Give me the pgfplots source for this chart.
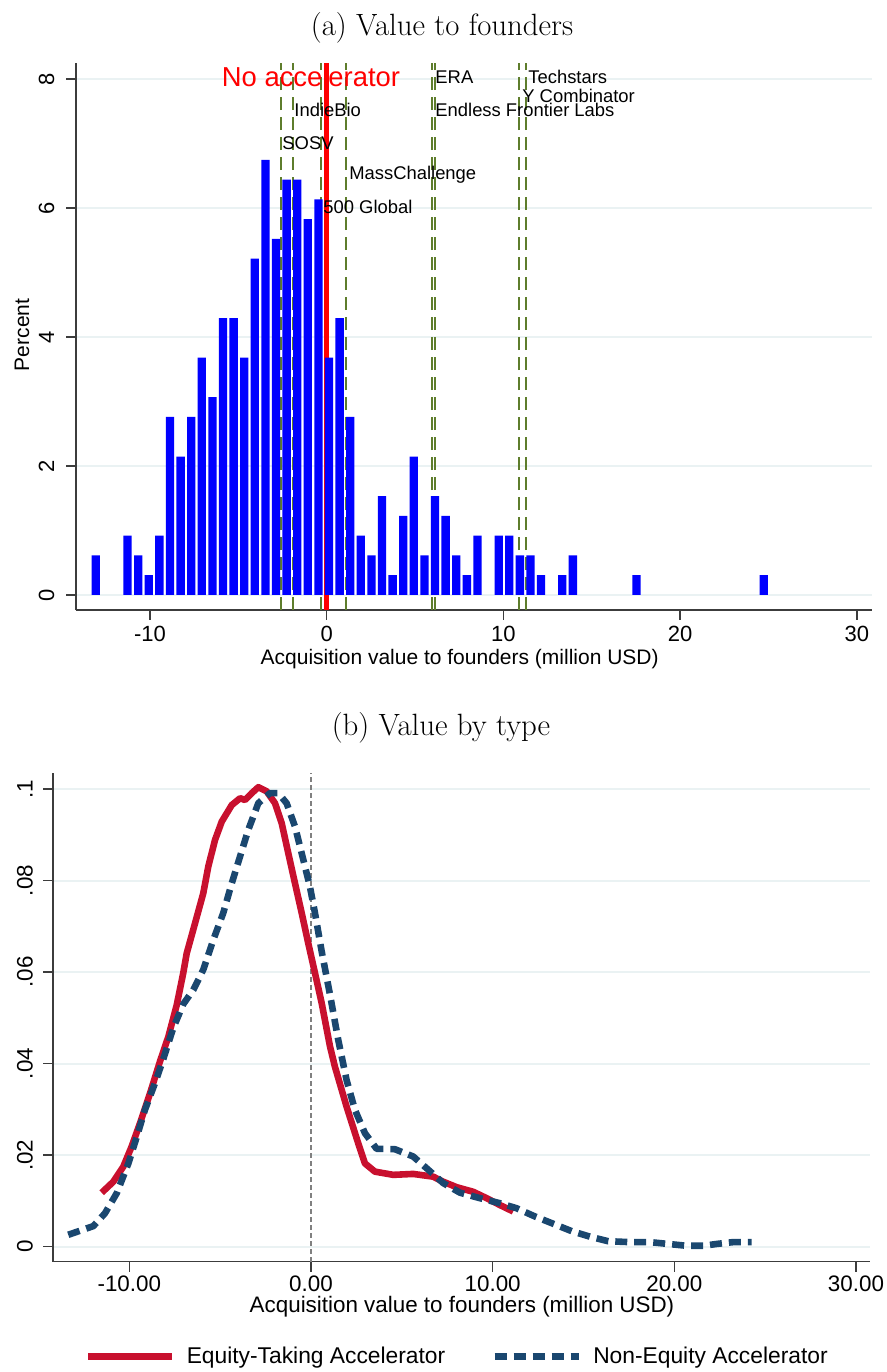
\documentclass[border=0pt]{standalone}
\usepackage{pgfplots}
\pgfplotsset{compat=1.18}
\usepackage{fontspec}
\newfontfamily\arial{Liberation Sans}
\definecolor{barblue}{RGB}{0,0,255}
\definecolor{refgreen}{RGB}{94,125,44}
\definecolor{gridc}{RGB}{234,242,243}
\definecolor{eqred}{RGB}{200,16,46}
\definecolor{neblue}{RGB}{26,71,111}
\definecolor{axc}{RGB}{60,60,60}

\pgfplotstableread{
x c
-13.07 0.613
-11.27 0.920
-10.67 0.613
-10.07 0.307
-9.47 0.920
-8.87 2.761
-8.27 2.147
-7.67 2.761
-7.07 3.681
-6.47 3.067
-5.87 4.294
-5.27 4.294
-4.67 3.681
-4.07 5.215
-3.47 6.748
-2.87 5.521
-2.27 6.442
-1.67 6.442
-1.07 5.828
-0.47 6.135
0.13 3.681
0.73 4.294
1.33 2.761
1.93 0.920
2.53 0.613
3.13 1.534
3.73 0.307
4.33 1.227
4.93 2.147
5.53 0.613
6.13 1.534
6.73 1.227
7.33 0.613
7.93 0.307
8.53 0.920
9.73 0.920
10.33 0.920
10.93 0.613
11.53 0.613
12.13 0.307
13.33 0.307
13.93 0.613
17.53 0.307
24.73 0.307
}\histdata

\pgfplotstableread{
x y
-11.52 0.0118
-10.88 0.0142
-10.33 0.0175
-9.87 0.0219
-9.41 0.0270
-8.86 0.0335
-8.31 0.0405
-7.85 0.0459
-7.39 0.0528
-7.03 0.0598
-6.84 0.0641
-6.38 0.0707
-5.93 0.0772
-5.65 0.0831
-5.28 0.0889
-4.91 0.0929
-4.36 0.0965
-3.90 0.0980
-3.63 0.0976
-3.26 0.0991
-2.90 0.1004
-2.44 0.0995
-1.98 0.0969
-1.61 0.0925
-1.25 0.0860
-0.88 0.0794
-0.51 0.0729
-0.15 0.0663
0.22 0.0598
0.59 0.0532
1.05 0.0437
1.32 0.0393
1.96 0.0306
2.60 0.0226
2.97 0.0182
3.52 0.0164
4.53 0.0157
5.63 0.0159
6.73 0.0153
7.28 0.0142
8.02 0.0130
8.93 0.0120
9.67 0.0106
10.40 0.0091
11.13 0.0077
}\eqdata

\pgfplotstableread{
x y
-13.36 0.0026
-11.98 0.0045
-11.34 0.0073
-10.69 0.0117
-10.05 0.0182
-9.59 0.0240
-9.14 0.0299
-8.59 0.0357
-8.13 0.0410
-7.58 0.0478
-7.03 0.0530
-6.48 0.0561
-5.93 0.0605
-5.38 0.0670
-4.83 0.0729
-4.36 0.0794
-3.91 0.0852
-3.45 0.0911
-2.90 0.0969
-2.26 0.0991
-1.80 0.0991
-1.34 0.0969
-0.88 0.0918
-0.42 0.0845
-0.06 0.0787
0.22 0.0729
0.59 0.0645
1.05 0.0550
1.50 0.0452
1.96 0.0364
2.42 0.0299
2.97 0.0248
3.61 0.0214
4.62 0.0213
5.63 0.0197
6.46 0.0168
7.28 0.0139
8.20 0.0118
9.30 0.0106
10.40 0.0095
11.32 0.0084
12.33 0.0066
13.34 0.0050
14.35 0.0034
15.35 0.0022
16.36 0.0012
17.56 0.0010
18.66 0.0010
19.67 0.0006
20.68 0.0002
21.59 0.0002
22.33 0.0006
23.24 0.0010
24.25 0.0010
}\nedata

\begin{document}
\begin{tikzpicture}
\useasboundingbox (0,0) rectangle (443.5pt,-686pt);

\node[font=\fontsize{15.4}{18}\selectfont] at (221pt,-14pt) {(a) Value to founders};
\node[font=\fontsize{15.4}{18}\selectfont] at (220.5pt,-364pt) {(b) Value by type};

% ---------- top panel ----------
\begin{axis}[
  at={(38pt,-305pt)}, anchor=south west,
  scale only axis, width=398pt, height=273.5pt,
  xmin=-14.19, xmax=30.86, ymin=-0.233, ymax=8.25,
  clip=false,
  axis x line*=bottom, axis y line*=left,
  axis line style={line width=0.75pt, color=axc},
  tick style={line width=0.75pt, color=axc},
  tick align=outside, major tick length=4.75pt,
  xtick={-10,0,10,20,30}, xticklabels={-10,0,10,20,30},
  ytick={0,2,4,6,8}, yticklabels={0,2,4,6,8},
  xticklabel style={font=\arial\fontsize{11}{12}\selectfont, anchor=center, yshift=-7pt},
  yticklabel style={font=\arial\fontsize{11}{12}\selectfont, xshift=-10pt, rotate=90, anchor=center},
  ymajorgrids, major grid style={color=gridc, line width=1pt},
  xlabel={Acquisition value to founders (million USD)},
  xlabel style={font=\arial\fontsize{10.5}{12}\selectfont, at={(axis description cs:0.482,-0.0896)}, anchor=center},
  ylabel={Percent},
  ylabel style={font=\arial\fontsize{10.5}{12}\selectfont, at={(axis description cs:-0.0678,0.503)}, anchor=center, rotate=0},
]
\addplot[refgreen, line width=0.85pt, dash pattern=on 6.3pt off 3.7pt, forget plot] coordinates {(-2.60,-0.233) (-2.60,8.25)};
\addplot[refgreen, line width=0.85pt, dash pattern=on 6.3pt off 3.7pt, forget plot] coordinates {(-1.91,-0.233) (-1.91,8.25)};
\addplot[refgreen, line width=0.85pt, dash pattern=on 6.3pt off 3.7pt, forget plot] coordinates {(-0.32,-0.233) (-0.32,8.25)};
\addplot[refgreen, line width=0.85pt, dash pattern=on 6.3pt off 3.7pt, forget plot] coordinates {(1.09,-0.233) (1.09,8.25)};
\addplot[refgreen, line width=0.85pt, dash pattern=on 6.3pt off 3.7pt, forget plot] coordinates {(5.94,-0.233) (5.94,8.25)};
\addplot[refgreen, line width=0.85pt, dash pattern=on 6.3pt off 3.7pt, forget plot] coordinates {(6.13,-0.233) (6.13,8.25)};
\addplot[refgreen, line width=0.85pt, dash pattern=on 6.3pt off 3.7pt, forget plot] coordinates {(10.88,-0.233) (10.88,8.25)};
\addplot[refgreen, line width=0.85pt, dash pattern=on 6.3pt off 3.7pt, forget plot] coordinates {(11.28,-0.233) (11.28,8.25)};
\addplot[red, line width=2.7pt, forget plot] coordinates {(0,-0.233) (0,8.25)};
\addplot[ybar, bar width=0.47, fill=barblue, draw=none] table[x=x, y=c] {\histdata};

\node[anchor=center, inner sep=0pt, text=red, font=\arial\fontsize{13.7}{15}\selectfont] at (axis cs:-0.89,8.03) {No accelerator};
\begin{scope}[every node/.style={anchor=west, inner sep=0pt, font=\arial\fontsize{9.2}{11}\selectfont}]
\node at (axis cs:6.13,8.03) {ERA};
\node at (axis cs:11.39,8.03) {Techstars};
\node at (axis cs:11.05,7.74) {Y Combinator};
\node at (axis cs:-1.85,7.52) {IndieBio};
\node at (axis cs:6.13,7.52) {Endless Frontier Labs};
\node at (axis cs:-2.53,7.0) {SOSV};
\node at (axis cs:1.26,6.51) {MassChallenge};
\node at (axis cs:-0.21,6.02) {500 Global};
\end{scope}
\end{axis}

% ---------- bottom panel ----------
\begin{axis}[
  at={(26.5pt,-630.85pt)}, anchor=south west,
  scale only axis, width=408.5pt, height=244.35pt,
  xmin=-14.20, xmax=30.77, ymin=-0.00328, ymax=0.1035,
  axis x line*=bottom, axis y line*=left,
  axis line style={line width=0.75pt, color=axc},
  tick style={line width=0.75pt, color=axc},
  tick align=outside, major tick length=5pt,
  xtick={-10,0,10,20,30}, xticklabels={-10.00,0.00,10.00,20.00,30.00},
  ytick={0,0.02,0.04,0.06,0.08,0.1}, yticklabels={0,.02,.04,.06,.08,.1},
  xticklabel style={font=\arial\fontsize{11.2}{12}\selectfont, anchor=center, yshift=-6pt},
  yticklabel style={font=\arial\fontsize{11.2}{12}\selectfont, xshift=-9pt, rotate=90, anchor=center},
  ymajorgrids, major grid style={color=gridc, line width=1pt},
  xlabel={Acquisition value to founders (million USD)},
  xlabel style={font=\arial\fontsize{11.2}{12}\selectfont, at={(axis description cs:0.5006,-0.092)}, anchor=center},
  legend style={at={(axis description cs:0.496,-0.194)}, anchor=center, draw=none, fill=none,
    legend columns=2, font=\arial\fontsize{11.4}{13}\selectfont,
    /tikz/every even column/.append style={column sep=21pt},
    /tikz/every odd column/.append style={column sep=3.7pt}},
  legend image code/.code={\draw[#1, line cap=butt] (0pt,0pt) -- (42pt,0pt);},
]
\addplot[gray, line width=0.75pt, dash pattern=on 2.5pt off 1.5pt, forget plot] coordinates {(0,-0.00328) (0,0.1035)};
\addplot[eqred, line width=3.3pt, line join=round] table[x=x, y=y] {\eqdata};
\addlegendentry{Equity-Taking Accelerator}
\addplot[neblue, line width=3.3pt, dash pattern=on 6pt off 3.5pt, line join=round] table[x=x, y=y] {\nedata};
\addlegendentry{Non-Equity Accelerator}
\end{axis}
\end{tikzpicture}
\end{document}
